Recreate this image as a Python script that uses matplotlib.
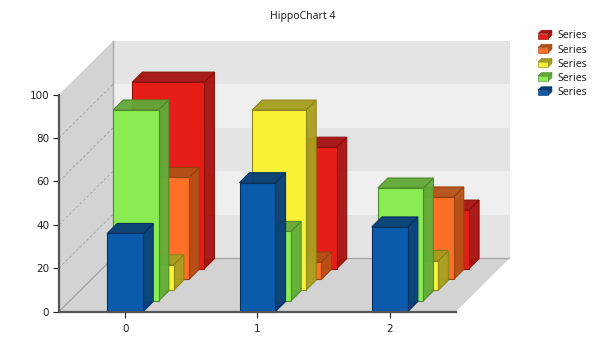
import matplotlib
matplotlib.use('Agg')
import matplotlib.pyplot as plt
from matplotlib.legend_handler import HandlerBase
from matplotlib.patches import Polygon, Rectangle

plt.rcParams['font.family'] = ['DejaVu Sans']

# values, front series first
categories = [0, 1, 2]
series_names = ['Series', 'Series', 'Series', 'Series', 'Series']
blue = [36, 59.4, 39]
green = [88, 32, 52]
yellow = [11.7, 83, 13.6]
orange = [47, 8, 38]
red = [86, 56, 27]

all_series = [blue, green, yellow, orange, red]
bar_widths = [0.272, 0.344, 0.408, 0.476, 0.544]

# front, side, top, edge colours
colors = [('#0a5bab', '#083f7a', '#073e78', '#05305e'),
          ('#89ec52', '#64ad3a', '#62a83a', '#4f8a2c'),
          ('#f9f136', '#aaa020', '#a69d1e', '#8c8518'),
          ('#ff7026', '#b85218', '#b55118', '#96430f'),
          ('#e61e17', '#a81410', '#a5140f', '#8c100c')]

# how far the back wall sits from the front, in category and value units
depth_x = 54 / 132.33
depth_y = 53.5 / 2.165
slot = 1 / 5
bar_depth = 0.93 * slot

fig = plt.figure(figsize=(6.05, 3.53), dpi=100)
W, H = 605, 353
ax = fig.add_axes([59 / W, 1 - 311.5 / H, (510 - 59) / W, (311.5 - 41) / H])
ax.set_xlim(-0.5, 2.5 + depth_x)
ax.set_ylim(0, 100 + depth_y)
ax.patch.set_visible(False)


def pt(x, v, d):
    # project a point at depth d (0 front, 1 back)
    return (x + d * depth_x, v + d * depth_y)


def face(points, fc, ec='none', lw=0.0, alpha=1.0, z=1):
    ax.add_patch(Polygon(points, closed=True, facecolor=fc, edgecolor=ec,
                         linewidth=lw, alpha=alpha, zorder=z, clip_on=False))


# left wall and floor
x0, x1 = -0.5, 2.5
face([pt(x0, 0, 0), pt(x0, 0, 1), pt(x0, 100, 1), pt(x0, 100, 0)], '#d3d3d3')
face([pt(x0, 0, 0), pt(x1, 0, 0), pt(x1, 0, 1), pt(x0, 0, 1)], '#d3d3d3')

# bands on the back wall
for i, low in enumerate([0, 20, 40, 60, 80]):
    band = '#e4e4e4' if i % 2 == 0 else '#efefef'
    face([pt(x0, low, 1), pt(x1, low, 1), pt(x1, low + 20, 1), pt(x0, low + 20, 1)], band)

# wall edges and grid lines
for v in [20, 40, 60, 80]:
    a, b = pt(x0, v, 0), pt(x0, v, 1)
    ax.plot([a[0], b[0]], [a[1], b[1]], color='#a9a9a9', lw=0.7, ls=(0, (3, 2)), zorder=2)
for a, b in [(pt(x0, 0, 0), pt(x0, 0, 1)), (pt(x0, 0, 1), pt(x0, 100, 1)),
             (pt(x0, 0, 1), pt(x1, 0, 1))]:
    ax.plot([a[0], b[0]], [a[1], b[1]], color='#a8a8a8', lw=1.0, zorder=2)

# bars, back series first so the front ones cover them
for s in range(4, -1, -1):
    fc, sc, tc, ec = colors[s]
    d0 = s * slot
    d1 = d0 + bar_depth
    half = bar_widths[s] / 2
    for c, v in zip(categories, all_series[s]):
        l, r = c - half, c + half
        z = 5 + (4 - s)
        face([pt(l, 0, d0), pt(r, 0, d0), pt(r, 0, d1), pt(l, 0, d1)], sc, z=z, alpha=0.7)
        face([pt(r, 0, d0), pt(r, 0, d1), pt(r, v, d1), pt(r, v, d0)], sc, ec, 0.8, 0.96, z)
        face([pt(l, v, d0), pt(r, v, d0), pt(r, v, d1), pt(l, v, d1)], tc, ec, 0.8, 0.96, z)
        face([pt(l, 0, d0), pt(r, 0, d0), pt(r, v, d0), pt(l, v, d0)], fc, ec, 0.8, 1.0, z)

# axes
for name in ['top', 'right']:
    ax.spines[name].set_visible(False)
for name in ['left', 'bottom']:
    ax.spines[name].set_color('#555555')
    ax.spines[name].set_linewidth(1.6)
    ax.spines[name].set_zorder(20)
ax.spines['left'].set_bounds(0, 100)
ax.spines['bottom'].set_bounds(x0, x1)
ax.set_xticks(categories)
ax.set_yticks([0, 20, 40, 60, 80, 100])
ax.tick_params(axis='y', length=4, width=0.8, color='#222222', labelsize=7.5,
               labelcolor='#222222', pad=3)
ax.tick_params(axis='x', length=4, width=0.8, color='#222222', labelsize=7.5,
               labelcolor='#222222', pad=5)

fig.suptitle('HippoChart 4', x=0.5, y=1 - 17 / H, va='center', fontsize=7.5,
             color='#222222', family='Noto Sans')


class BoxHandler(HandlerBase):
    # small 3D box for the legend, the handle's gid says which series
    def create_artists(self, legend, orig_handle, xdescent, ydescent, width, height, fontsize, trans):
        fc, sc, tc, ec = colors[orig_handle.get_gid()]
        dx, dy = width * 0.25, height * 0.4
        w, h = width - dx, height - dy
        front = Polygon([(0, 0), (w, 0), (w, h), (0, h)], fc=fc, ec=ec, lw=0.4, transform=trans)
        side = Polygon([(w, 0), (w + dx, dy), (w + dx, h + dy), (w, h)], fc=sc, ec=ec, lw=0.4, transform=trans)
        top = Polygon([(0, h), (w, h), (w + dx, h + dy), (dx, h + dy)], fc=tc, ec=ec, lw=0.4, transform=trans)
        return [front, side, top]


# legend lists the back series first
handles = []
for i in range(4, -1, -1):
    r = Rectangle((0, 0), 1, 1)
    r.set_gid(i)
    handles.append(r)
leg = fig.legend(handles, series_names, loc='upper left', bbox_to_anchor=(538 / W, 1 - 30.5 / H),
                 bbox_transform=fig.transFigure, frameon=False, fontsize=7.5, borderpad=0,
                 borderaxespad=0, handlelength=1.34, handleheight=0.85, handletextpad=0.55,
                 labelspacing=0.3, handler_map={Rectangle: BoxHandler()},
                 prop={'family': 'Noto Sans', 'size': 7.5})
for t in leg.get_texts():
    t.set_color('#222222')

fig.savefig('out.png', dpi=100)
